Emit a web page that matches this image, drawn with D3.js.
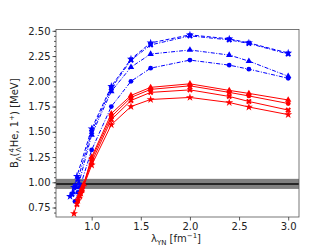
<!DOCTYPE html>
<html>
<head>
<meta charset="utf-8">
<script src="https://cdn.jsdelivr.net/npm/d3@7"></script>
<style>
  body { margin: 0; background: #fff; }
  svg text { font-family: "DejaVu Sans", sans-serif; }
</style>
</head>
<body>
<svg id="chart" width="332" height="249"></svg>
<script>
// experimental value and its error band
var expValue = 0.984;
var expError = 0.05;

// blue series (dashed)
var blueStarX = [0.78, 0.82, 0.85, 1.0, 1.2, 1.4, 1.6, 2.0, 2.4, 2.6, 3.0];
var blueStarY = [0.86, 0.95, 1.06, 1.53, 1.95, 2.22, 2.38, 2.46, 2.42, 2.38, 2.28];
var blueXX = [0.80, 0.83, 0.86, 1.0, 1.2, 1.4, 1.6, 2.0, 2.4, 2.6, 3.0];
var blueXY = [0.88, 0.96, 1.03, 1.50, 1.93, 2.21, 2.36, 2.45, 2.41, 2.375, 2.27];
var blueTriX = [0.81, 0.84, 0.87, 1.0, 1.2, 1.4, 1.6, 2.0, 2.4, 2.6, 3.0];
var blueTriY = [0.90, 0.95, 0.99, 1.47, 1.90, 2.14, 2.27, 2.31, 2.26, 2.20, 2.05];
var blueCircX = [0.83, 0.86, 0.88, 1.0, 1.2, 1.4, 1.6, 2.0, 2.4, 2.6, 3.0];
var blueCircY = [0.81, 0.90, 0.95, 1.32, 1.75, 2.00, 2.13, 2.21, 2.16, 2.12, 2.03];

// red series (solid)
var redTriX = [0.87, 0.90, 0.92, 1.0, 1.2, 1.4, 1.6, 2.0, 2.4, 2.6, 3.0];
var redTriY = [0.86, 0.93, 0.98, 1.25, 1.68, 1.86, 1.94, 1.975, 1.91, 1.88, 1.815];
var redCircX = [0.86, 0.89, 0.91, 1.0, 1.2, 1.4, 1.6, 2.0, 2.4, 2.6, 3.0];
var redCircY = [0.82, 0.90, 0.95, 1.23, 1.65, 1.84, 1.92, 1.955, 1.89, 1.855, 1.78];
var redXX = [0.85, 0.88, 0.90, 1.0, 1.2, 1.4, 1.6, 2.0, 2.4, 2.6, 3.0];
var redXY = [0.78, 0.86, 0.92, 1.20, 1.62, 1.81, 1.89, 1.915, 1.85, 1.80, 1.715];
var redStarX = [0.82, 0.86, 0.89, 1.0, 1.2, 1.4, 1.6, 2.0, 2.4, 2.6, 3.0];
var redStarY = [0.69, 0.82, 0.89, 1.17, 1.57, 1.75, 1.82, 1.84, 1.79, 1.745, 1.67];

var xTicks = [1.0, 1.5, 2.0, 2.5, 3.0];
var yTicks = [0.75, 1.00, 1.25, 1.50, 1.75, 2.00, 2.25, 2.50];

var series = [
  { xs: blueStarX, ys: blueStarY, color: "#0000ff", marker: "star", dash: "4,2" },
  { xs: blueXX, ys: blueXY, color: "#0000ff", marker: "x", dash: "4,1.5,1,1.5" },
  { xs: blueTriX, ys: blueTriY, color: "#0000ff", marker: "tri", dash: "4,1.5,1,1.5" },
  { xs: blueCircX, ys: blueCircY, color: "#0000ff", marker: "circ", dash: "4,1.5,1,1.5" },
  { xs: redTriX, ys: redTriY, color: "#ff0000", marker: "tri", dash: null },
  { xs: redCircX, ys: redCircY, color: "#ff0000", marker: "circ", dash: null },
  { xs: redXX, ys: redXY, color: "#ff0000", marker: "x", dash: null },
  { xs: redStarX, ys: redStarY, color: "#ff0000", marker: "star", dash: null }
];

var svg = d3.select("#chart");
var mLeft = 56, mRight = 299, mTop = 29.5, mBottom = 217;

var x = d3.scaleLinear().domain([0.637, 3.11]).range([mLeft, mRight]);
var y = d3.scaleLinear().domain([0.656, 2.513]).range([mBottom, mTop]);

var plot = svg.append("g");

// band and line
plot.append("rect")
  .attr("x", mLeft).attr("width", mRight - mLeft)
  .attr("y", y(expValue + expError))
  .attr("height", y(expValue - expError) - y(expValue + expError))
  .attr("fill", "#808080");
plot.append("line")
  .attr("x1", mLeft).attr("x2", mRight)
  .attr("y1", y(expValue)).attr("y2", y(expValue))
  .attr("stroke", "#262626").attr("stroke-width", 2);

var symbols = {
  star: d3.symbol().type(d3.symbolStar).size(20),
  x: d3.symbol().type(d3.symbolCross).size(20),
  tri: d3.symbol().type(d3.symbolTriangle).size(18),
  circ: d3.symbol().type(d3.symbolCircle).size(18)
};

var line = d3.line().x(function (d) { return x(d[0]); }).y(function (d) { return y(d[1]); });

series.forEach(function (s) {
  var pts = s.xs.map(function (v, i) { return [v, s.ys[i]]; });
  plot.append("path")
    .datum(pts)
    .attr("d", line)
    .attr("fill", "none")
    .attr("stroke", s.color)
    .attr("stroke-width", 1)
    .attr("stroke-dasharray", s.dash);
  plot.selectAll(null)
    .data(pts)
    .enter()
    .append("path")
    .attr("d", symbols[s.marker])
    .attr("transform", function (d) {
      return "translate(" + x(d[0]) + "," + y(d[1]) + ")" + (s.marker == "x" ? " rotate(45)" : "");
    })
    .attr("fill", s.color);
});

// frame
svg.append("rect")
  .attr("x", mLeft).attr("y", mTop)
  .attr("width", mRight - mLeft).attr("height", mBottom - mTop)
  .attr("fill", "none").attr("stroke", "#555").attr("stroke-width", 0.8);

// axes
var xAxis = svg.append("g")
  .attr("transform", "translate(0," + mBottom + ")")
  .call(d3.axisBottom(x).tickValues(xTicks).tickFormat(d3.format(".1f")).tickSize(3.5).tickPadding(2));
var yAxis = svg.append("g")
  .attr("transform", "translate(" + mLeft + ",0)")
  .call(d3.axisLeft(y).tickValues(yTicks).tickFormat(d3.format(".2f")).tickSize(3.5).tickPadding(2));
var yMinor = svg.append("g")
  .attr("transform", "translate(" + mLeft + ",0)")
  .call(d3.axisLeft(y).tickValues(d3.range(14, 51).map(function (d) { return d / 20; })).tickFormat("").tickSize(2));

[xAxis, yAxis, yMinor].forEach(function (a) {
  a.select(".domain").remove();
  a.selectAll("line").attr("stroke", "#333").attr("stroke-width", 0.8);
  a.selectAll("text").attr("font-size", 10).attr("fill", "#222").attr("font-family", "DejaVu Sans");
});

// x label
var xl = svg.append("text")
  .attr("x", 176).attr("y", 242)
  .attr("text-anchor", "middle")
  .attr("font-size", 10).attr("fill", "#222");
xl.append("tspan").text("λ");
xl.append("tspan").attr("font-size", 7).attr("dy", 2.5).text("YN");
xl.append("tspan").attr("dy", -2.5).text(" [fm");
xl.append("tspan").attr("font-size", 7).attr("dy", -4).text("−1");
xl.append("tspan").attr("dy", 4).text("]");

// y label
var yl = svg.append("text")
  .attr("transform", "translate(18," + ((mTop + mBottom) / 2) + ") rotate(-90)")
  .attr("text-anchor", "middle")
  .attr("font-size", 10).attr("fill", "#222");
yl.append("tspan").text("B");
yl.append("tspan").attr("font-size", 7).attr("dy", 2.5).text("Λ");
yl.append("tspan").attr("dy", -2.5).text("(");
yl.append("tspan").attr("font-size", 7).attr("dy", -4).text("4");
yl.append("tspan").attr("font-size", 7).attr("dx", -4).attr("dy", 7).text("Λ");
yl.append("tspan").attr("dy", -3).text("He, 1");
yl.append("tspan").attr("font-size", 7).attr("dy", -4).text("+");
yl.append("tspan").attr("dy", 4).text(") [MeV]");
</script>
</body>
</html>
